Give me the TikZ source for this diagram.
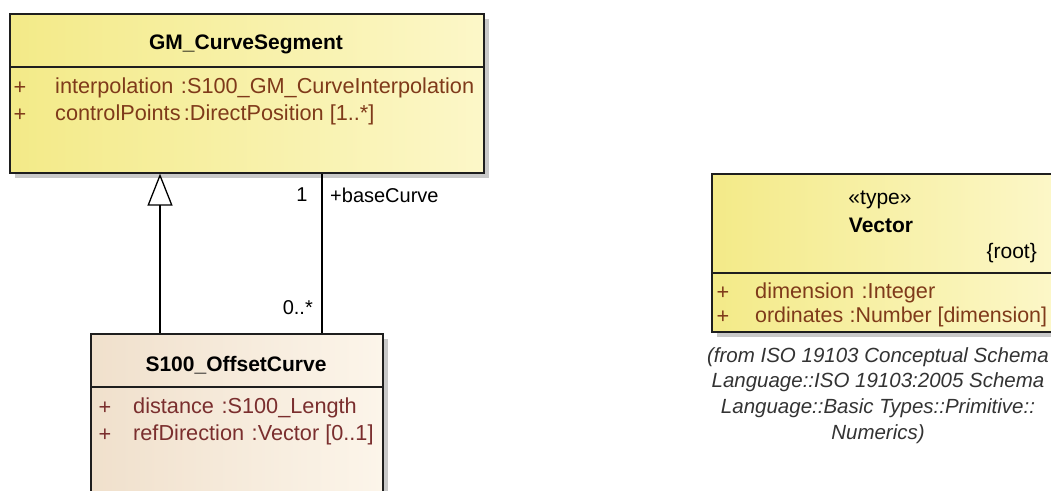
\documentclass[tikz,border=0pt]{standalone}
\usepackage{fontspec}
\setmainfont{Liberation Sans}
\usetikzlibrary{arrows.meta}
\definecolor{attrc}{HTML}{7F3A1A}
\definecolor{attrd}{HTML}{7A2E2E}
\definecolor{yelL}{HTML}{F3EA88}
\definecolor{yelR}{HTML}{FCF7C8}
\definecolor{begL}{HTML}{F0E0CC}
\definecolor{begR}{HTML}{FCF5EA}
\definecolor{edgec}{HTML}{1E1E1E}
\definecolor{notec}{HTML}{333333}
\definecolor{shadc}{HTML}{C9C9C9}
\begin{document}
\begin{tikzpicture}[x=1pt,y=-1pt,
  every node/.style={font=\fontsize{21}{25.5}\selectfont, inner sep=0pt},
  classbox/.style={draw=edgec, line width=1.6pt, anchor=north west},
  yelbox/.style={classbox, left color=yelL, right color=yelR},
  begbox/.style={classbox, left color=begL, right color=begR},
  shadowbox/.style={fill=shadc, draw=none},
  sepline/.style={draw=edgec, line width=1.4pt},
  title/.style={font=\fontsize{21}{25.5}\selectfont\bfseries, text=black},
  plus/.style={text=attrc, font=\fontsize{21.7}{25.5}\selectfont},
  attr/.style={anchor=west, text=attrc, font=\fontsize{21.7}{25.5}\selectfont},
  attrb/.style={anchor=west, text=attrd, font=\fontsize{21.7}{25.5}\selectfont},
  conn/.style={draw=black, line width=1.5pt},
  gen/.style={conn, -{Triangle[open, length=32pt, width=25pt, fill=white, line width=1.3pt]}},
  mult/.style={text=black, font=\fontsize{20}{24}\selectfont},
  notetext/.style={text=notec, align=center, font=\fontsize{20.5}{25.7}\selectfont\itshape}
]
\clip (0,0) rectangle (1051,490);
\fill[white] (0,0) rectangle (1051,490);

% ---------- GM_CurveSegment ----------
\fill[shadowbox] (15,19) rectangle (489,178);
\node[yelbox, minimum width=474pt, minimum height=159pt] (gm) at (9,13) {};
\draw[sepline] (gm.west |- 0,67) -- (gm.east |- 0,67);
\node[title] (gmt) at (246,44) {GM\_CurveSegment};
\node[plus] (gmp1) at (20,88) {+};
\node[plus] (gmp2) at (20,115) {+};
\node[attr] (gma1) at (55,88) {interpolation\hspace{0.35em}:S100\_GM\_CurveInterpolation};
\node[attr] (gma2) at (55,115) {controlPoints\hspace{0.15em}:DirectPosition [1..*]};

% ---------- S100_OffsetCurve ----------
\fill[shadowbox] (96,339) rectangle (388,530);
\node[begbox, minimum width=292pt, minimum height=190pt] (oc) at (90,333) {};
\draw[sepline] (oc.west |- 0,387) -- (oc.east |- 0,387);
\node[title] (oct) at (236,365) {S100\_OffsetCurve};
\node[plus, text=attrd] (ocp1) at (105,408) {+};
\node[plus, text=attrd] (ocp2) at (105,435) {+};
\node[attrb] (oca1) at (133,408) {distance\hspace{0.35em}:S100\_Length};
\node[attrb] (oca2) at (133,435) {refDirection\hspace{0.35em}:Vector [0..1]};

% ---------- Vector ----------
\fill[shadowbox] (717,179) rectangle (1060,337);
\node[yelbox, minimum width=345pt, minimum height=158pt] (vec) at (711,173) {};
\draw[sepline] (vec.west |- 0,273) -- (vec.east |- 0,273);
\node[text=black] (vst) at (880,200) {«type»};
\node[title] (vt) at (881,225) {Vector};
\node[text=black, anchor=east] (vroot) at (1037,253) {\{root\}};
\node[plus] (vp1) at (723,293) {+};
\node[plus] (vp2) at (723,317) {+};
\node[attr] (va1) at (755,293) {dimension\hspace{0.35em}:Integer};
\node[attr, font=\fontsize{21.4}{25.5}\selectfont] (va2) at (755,317) {ordinates\hspace{0.3em}:Number [dimension]};
\node[notetext, anchor=north] (vnote) at (878,347) {(from ISO 19103 Conceptual Schema\\Language::ISO 19103:2005 Schema\\Language::Basic Types::Primitive::\\Numerics)};

% ---------- connectors ----------
\coordinate (gx) at (160,0);
\coordinate (ax) at (322,0);
\draw[gen] (oc.north -| gx) -- (gm.south -| gx);
\draw[conn] (oc.north -| ax) -- (gm.south -| ax);
\node[mult] (m1) at (302,195) {1};
\node[mult, anchor=west] (rb) at (330,195) {+baseCurve};
\node[mult, anchor=east] (m2) at (313,308) {0..*};
\end{tikzpicture}
\end{document}
